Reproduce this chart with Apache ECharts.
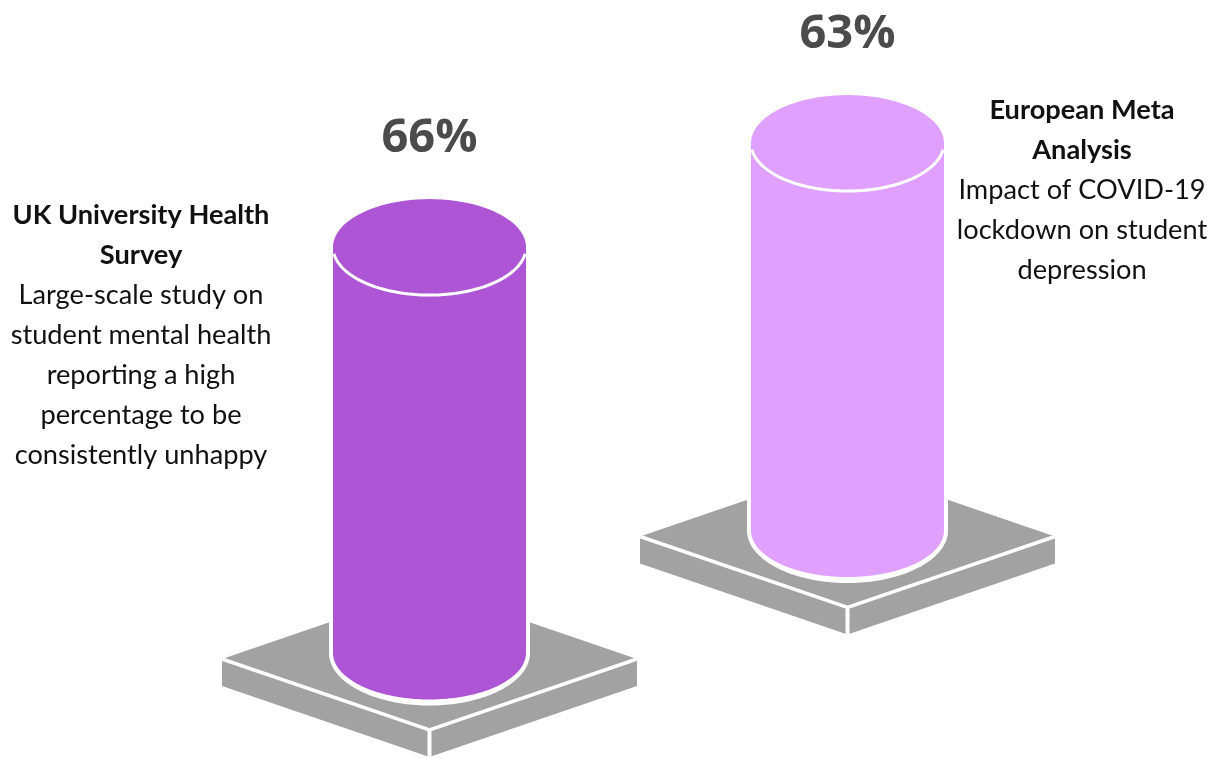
<!DOCTYPE html>
<html>
<head>
<meta charset="utf-8">
<style>html,body{margin:0;padding:0;background:#fff}#chart{width:1216px;height:758px}</style>
<script src="https://cdn.jsdelivr.net/npm/echarts@6/dist/echarts.min.js"></script>
</head>
<body>
<div id="chart"></div>
<script>
// Share of students affected, by study
const studies = ['UK University Health Survey', 'European Meta Analysis'];
const percentages = [66, 63];
const cylinderColors = ['#AE55D6', '#E0A0FF'];
const titleLines = [['UK University Health', 'Survey'], ['European Meta', 'Analysis']];
const detailLines = [
  ['Large-scale study on', 'student mental health', 'reporting a high', 'percentage to be', 'consistently unhappy'],
  ['Impact of COVID-19', 'lockdown on student', 'depression']
];

const PLATE = '#A2A2A2';
const RX = 96.5, RY = 46.5;

// Points along an ellipse between two angles given in degrees
function ellipseArc(cx, cy, rx, ry, from, to) {
  const pts = [];
  const steps = 96;
  for (let i = 0; i <= steps; i++) {
    const a = (from + (to - from) * i / steps) * Math.PI / 180;
    pts.push([cx + rx * Math.cos(a), cy + ry * Math.sin(a)]);
  }
  return pts;
}

// A cylinder standing on a square plate, with its height taken from the value axis
function renderCylinder(index) {
  return function (params, api) {
    const base = api.coord([api.value(0), 0]);
    const top = api.coord([api.value(0), api.value(1)]);
    const cx = base[0], by = base[1], ty = top[1];
    const py = by + 6;               // centre of the plate's top face
    const hw = 207.5, hh = 71, th = 27;

    const flat = (pts) => ({ type: 'polygon', shape: { points: pts }, style: { fill: PLATE } });
    const whiteLine = (pts, w) => ({
      type: 'polyline', shape: { points: pts },
      style: { stroke: '#fff', lineWidth: w, fill: 'none' }
    });
    const color = cylinderColors[index];

    return {
      type: 'group',
      children: [
        flat([[cx - hw, py], [cx, py - hh], [cx + hw, py], [cx, py + hh]]),
        flat([[cx - hw, py], [cx, py + hh], [cx, py + hh + th], [cx - hw, py + th]]),
        flat([[cx + hw, py], [cx, py + hh], [cx, py + hh + th], [cx + hw, py + th]]),
        whiteLine([[cx - hw, py], [cx, py + hh], [cx + hw, py]], 3.5),
        whiteLine([[cx, py + hh], [cx, py + hh + th + 1]], 4),
        // white rim hugging the foot of the cylinder
        {
          type: 'polygon',
          shape: { points: [[cx - RX - 4, ty]].concat(ellipseArc(cx, by, RX + 4, RY + 6, 180, 0), [[cx + RX + 4, ty]]) },
          style: { fill: '#fff' }
        },
        {
          type: 'polygon',
          shape: { points: [[cx - RX, ty]].concat(ellipseArc(cx, by, RX, RY, 180, 0), [[cx + RX, ty]]) },
          style: { fill: color }
        },
        {
          type: 'polygon',
          shape: { points: ellipseArc(cx, ty, RX, 48, 0, 360) },
          style: { fill: color }
        },
        {
          type: 'polyline',
          shape: { points: ellipseArc(cx, ty, RX, 48, 8, 172) },
          style: { stroke: '#fff', lineWidth: 3, fill: 'none' }
        },
        {
          type: 'text',
          style: {
            x: cx, y: ty - 108,
            text: api.value(1) + '%',
            fill: '#4B4B4B',
            font: 'bold 47px "Open Sans", sans-serif',
            textAlign: 'center', textVerticalAlign: 'middle'
          }
        }
      ]
    };
  };
}

// Rich text block: bold study name followed by its description
function noteText(i) {
  const bold = titleLines[i].map(l => '{b|' + l + '}');
  const plain = detailLines[i].map(l => '{n|' + l + '}');
  return bold.concat(plain).join('\n');
}
const noteRich = {
  b: { font: 'bold 27.2px Lato, sans-serif', fill: '#111', lineHeight: 40, align: 'center' },
  n: { font: '27.2px Lato, sans-serif', fill: '#111', lineHeight: 40, align: 'center' }
};

const chart = echarts.init(document.getElementById('chart'), null, { renderer: 'canvas' });
const gridLefts = [329.5, 747.5];
const gridBottoms = [105, 227.5];

chart.setOption({
  animation: false,
  backgroundColor: '#fff',
  grid: studies.map((_, i) => ({
    left: gridLefts[i], width: 200, bottom: gridBottoms[i], height: 430.5, containLabel: false
  })),
  xAxis: studies.map((s, i) => ({ type: 'category', gridIndex: i, data: [s], show: false })),
  yAxis: studies.map((_, i) => ({ type: 'value', gridIndex: i, min: 0, max: 70, show: false })),
  series: studies.map((s, i) => ({
    type: 'custom',
    name: s,
    xAxisIndex: i,
    yAxisIndex: i,
    clip: false,
    encode: { x: 0, y: 1 },
    data: [[0, percentages[i]]],
    renderItem: renderCylinder(i)
  })),
  graphic: [
    { type: 'text', silent: true,
      style: { x: 141, y: 195, text: noteText(0), rich: noteRich, textAlign: 'center', textVerticalAlign: 'top' } },
    { type: 'text', silent: true,
      style: { x: 1082, y: 90, text: noteText(1), rich: noteRich, textAlign: 'center', textVerticalAlign: 'top' } }
  ]
});
</script>
</body>
</html>
